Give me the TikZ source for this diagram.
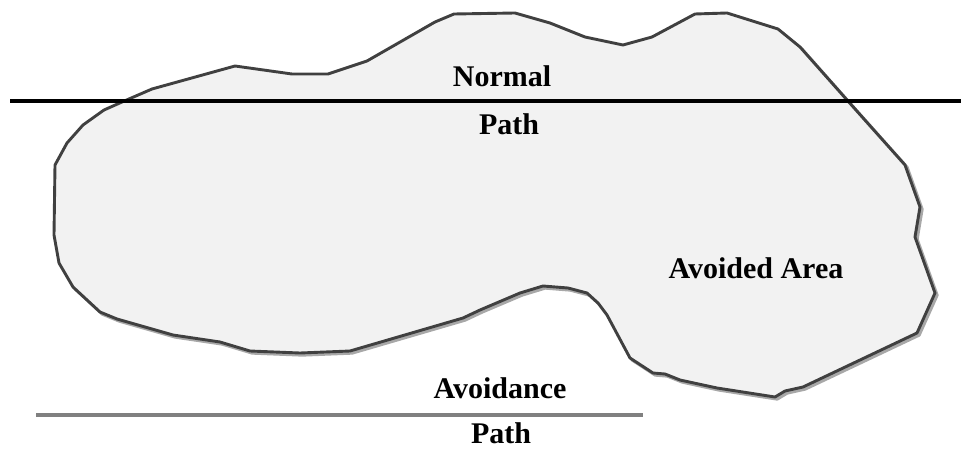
\documentclass[tikz,border=0pt]{standalone}
\usepackage{fontspec}
\setmainfont{Liberation Serif}
\definecolor{blobfill}{HTML}{F2F2F2}
\definecolor{blobline}{HTML}{404040}
\definecolor{blobshadow}{HTML}{A8A8A8}
\definecolor{avoidline}{HTML}{808080}
\tikzset{
  lbl/.style={inner sep=0pt, anchor=base, font=\fontsize{30}{36}\selectfont\bfseries},
  blobpath/.style={line width=2.9pt, line join=round},
}
\begin{document}
\begin{tikzpicture}[x=1pt,y=-1pt]
\useasboundingbox (0,0) rectangle (961,449);
\def\blob{(454,14) -- (515,13) -- (550,23) -- (585,37) -- (623,45) -- (652,37) -- (695,14) -- (727,13) -- (778,29) -- (800,47) -- (847,100) -- (880,137) -- (905,165) -- (920,207) -- (915,237) -- (935,293) -- (917,333) -- (803,387) -- (785,391) -- (775,397) -- (717,388) -- (680,380) -- (665,374) -- (653,373) -- (630,358) -- (607,315) -- (598,303) -- (587,293) -- (568,288) -- (543,286) -- (520,293) -- (480,310) -- (463,318) -- (350,351) -- (300,353) -- (250,351) -- (220,342) -- (173,335) -- (117,319) -- (100,312) -- (73,287) -- (59,263) -- (54,235) -- (55,165) -- (67,143) -- (83,125) -- (104,110) -- (122,102) -- (152,89) -- (235,66) -- (292,74) -- (328,74) -- (367,61) -- (435,22) -- cycle}
% shadow
\begin{scope}[shift={(2.2,2.2)}]
\draw[blobpath, draw=blobshadow, fill=blobshadow] \blob;
\end{scope}
% area
\draw[blobpath, draw=blobline, fill=blobfill] \blob;
% normal path
\coordinate (n1) at (10,101);
\coordinate (n2) at (961,101);
\draw[line width=3.3pt, black] (n1) -- (n2);
% avoidance path
\coordinate (a1) at (36,415);
\coordinate (a2) at (643,415);
\draw[line width=4.6pt, avoidline] (a1) -- (a2);
% labels
\node[lbl] (normal) at (502,86.7) {Normal};
\node[lbl] (path1) at (509,135) {Path};
\node[lbl] (area) at (756,278.3) {Avoided Area};
\node[lbl] (avoid) at (500,398) {Avoidance};
\node[lbl] (path2) at (501,443) {Path};
\end{tikzpicture}
\end{document}
